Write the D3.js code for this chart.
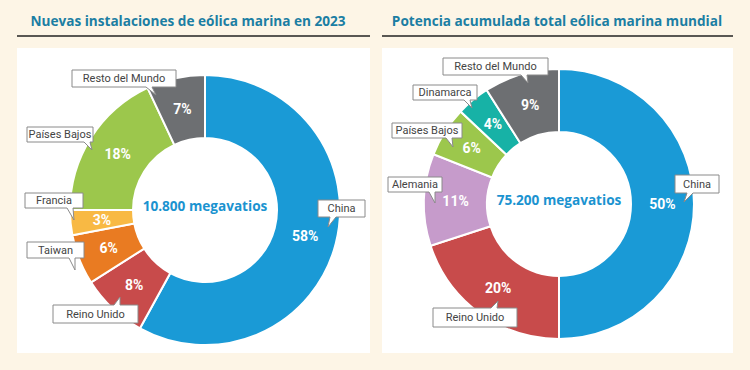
<!DOCTYPE html>
<html lang="es">
<head>
<meta charset="UTF-8">
<title>Eólica marina</title>
<script src="https://cdn.jsdelivr.net/npm/d3@7"></script>
<style>
  body { margin: 0; background: #fdf5e6; }
  .titulo { font-family: "Open Sans", sans-serif; font-weight: bold; font-size: 13.6px; fill: #1b7ea3; }
  .total { font-family: "Open Sans", sans-serif; font-weight: bold; font-size: 13.6px; fill: #1b93d0; }
  .pct { font-family: Roboto, sans-serif; font-weight: bold; font-size: 14px; fill: #fff; }
  .etiqueta { font-family: Roboto, sans-serif; font-size: 11px; fill: #444; }
</style>
</head>
<body>
<svg id="chart" width="750" height="370"></svg>
<script>
// datos
const titulos = ["Nuevas instalaciones de eólica marina en 2023", "Potencia acumulada total eólica marina mundial"];
const totales = ["10.800 megavatios", "75.200 megavatios"];
const paisesNuevas = ["China", "Reino Unido", "Taiwan", "Francia", "Países Bajos", "Resto del Mundo"];
const valoresNuevas = [58, 8, 6, 3, 18, 7];
const paisesAcum = ["China", "Reino Unido", "Alemania", "Países Bajos", "Dinamarca", "Resto del Mundo"];
const valoresAcum = [50, 20, 11, 6, 4, 9];

const colores = d3.scaleOrdinal()
  .domain(["China", "Reino Unido", "Taiwan", "Francia", "Países Bajos", "Resto del Mundo", "Alemania", "Dinamarca"])
  .range(["#1a9ad6", "#c84b4b", "#e97b22", "#f8b944", "#9cc74c", "#6d6f72", "#c69bcb", "#17b2a6"]);

// posiciones de los recuadros (x0, y0, x1, y1, base de la cola, punta)
const cajasNuevas = {
  "Resto del Mundo": [72, 70, 176, 87, 146, [156, 95]],
  "Países Bajos": [27, 127, 93, 142, 84, [92, 150]],
  "Francia": [25, 193, 83, 208, 67, [74, 220]],
  "Taiwan": [27, 242, 84, 258, 69, [75, 270]],
  "Reino Unido": [53, 305, 138, 323, 114, [120, 297]],
  "China": [318, 200, 365, 217, 330, [328, 227]]
};
const cajasAcum = {
  "Resto del Mundo": [443, 58, 548, 75, 521, [528, 83]],
  "Dinamarca": [413, 85, 477, 100, 464, [472, 108]],
  "Países Bajos": [392, 123, 462, 138, 446, [453, 147]],
  "Alemania": [388, 177, 442, 192, 429, [435, 203]],
  "Reino Unido": [433, 308, 517, 327, 491, [498, 301]],
  "China": [675, 175, 719, 193, 687, [684, 202]]
};

const svg = d3.select("#chart");

const paneles = [
  { x0: 17, x1: 370, tx: 188, cx: 205, cy: 210, paises: paisesNuevas, valores: valoresNuevas, cajas: cajasNuevas },
  { x0: 382, x1: 733, tx: 557, cx: 559, cy: 204, paises: paisesAcum, valores: valoresAcum, cajas: cajasAcum }
];

const rExt = 135, rInt = 72;
const arco = d3.arc().innerRadius(rInt).outerRadius(rExt);
const pie = d3.pie().sort(null).value(d => d.v);

paneles.forEach((p, i) => {
  // titulo y linea
  svg.append("text").attr("class", "titulo")
    .attr("x", p.tx).attr("y", 26)
    .attr("text-anchor", "middle").text(titulos[i]);
  svg.append("line")
    .attr("x1", p.x0).attr("x2", p.x1).attr("y1", 36).attr("y2", 36)
    .attr("stroke", "#222").attr("stroke-width", 1.5);

  // caja blanca
  svg.append("rect")
    .attr("x", p.x0).attr("y", 48)
    .attr("width", p.x1 - p.x0).attr("height", 305)
    .attr("fill", "#fff");

  const datos = p.paises.map((n, j) => ({ n: n, v: p.valores[j] }));
  const arcos = pie(datos);
  const g = svg.append("g").attr("transform", `translate(${p.cx},${p.cy})`);

  g.selectAll("path").data(arcos).join("path")
    .attr("d", arco)
    .attr("fill", d => colores(d.data.n))
    .attr("stroke", "#fff").attr("stroke-width", 2);

  g.selectAll("text.pct").data(arcos).join("text")
    .attr("class", "pct")
    .attr("transform", d => `translate(${arco.centroid(d)})`)
    .attr("text-anchor", "middle").attr("dy", "0.35em")
    .text(d => d.data.v + "%");

  g.append("text").attr("class", "total")
    .attr("text-anchor", "middle").attr("y", -4).attr("dy", "0.35em")
    .text(totales[i]);

  // recuadros con cola
  datos.forEach(d => {
    const [x0, y0, x1, y1, bx, punta] = p.cajas[d.n];
    const abajo = punta[1] > y1;
    const path = d3.path();
    path.moveTo(x0, y0);
    if (!abajo) {
      path.lineTo(bx, y0); path.lineTo(punta[0], punta[1]); path.lineTo(bx + 6, y0);
    }
    path.lineTo(x1, y0);
    path.lineTo(x1, y1);
    if (abajo) {
      path.lineTo(bx + 6, y1); path.lineTo(punta[0], punta[1]); path.lineTo(bx, y1);
    }
    path.lineTo(x0, y1);
    path.closePath();
    svg.append("path").attr("d", path.toString())
      .attr("fill", "#fff").attr("stroke", "#8a8a8a").attr("stroke-width", 1);
    svg.append("text").attr("class", "etiqueta")
      .attr("x", (x0 + x1) / 2).attr("y", (y0 + y1) / 2)
      .attr("dy", "0.35em").attr("text-anchor", "middle")
      .text(d.n);
  });
});
</script>
</body>
</html>
